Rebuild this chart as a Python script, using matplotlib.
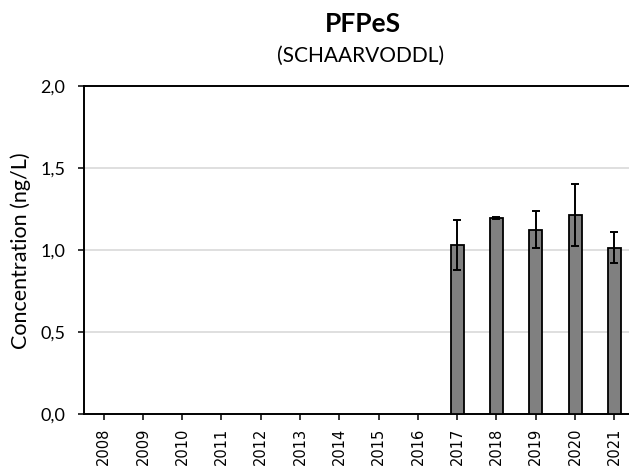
import matplotlib
matplotlib.use("Agg")
import matplotlib.pyplot as plt
import numpy as np

years = ["2008", "2009", "2010", "2011", "2012", "2013", "2014", "2015",
         "2016", "2017", "2018", "2019", "2020", "2021"]
values = [np.nan] * 9 + [1.03, 1.195, 1.125, 1.215, 1.015]
errors = [np.nan] * 9 + [0.15, 0.005, 0.115, 0.19, 0.095]
yticks = [0.0, 0.5, 1.0, 1.5, 2.0]
ytick_labels = ["0,0", "0,5", "1,0", "1,5", "2,0"]

plt.rcParams['font.family'] = ['Lato', 'DejaVu Sans']

fig = plt.figure(figsize=(6.29, 4.66), dpi=100)
ax = fig.add_axes([84/629, 52/466, 550/629, 328/466])

x = np.arange(len(years))
ax.bar(x, values, width=0.33, color="#808080", edgecolor="black", linewidth=1.3, zorder=3)
ax.errorbar(x, values, yerr=errors, fmt="none", ecolor="black", elinewidth=1.4,
            capsize=3, capthick=1.4, zorder=4)

ax.set_xlim(-0.5, 13.5)
ax.set_ylim(0, 2.0)
ax.set_yticks(yticks)
ax.set_yticklabels(ytick_labels, fontsize=13)
ax.set_xticks(x)
ax.set_xticklabels(years, rotation=90, fontsize=10.5, family=['DejaVu Sans'])
ax.yaxis.grid(True, color="#d9d9d9", linewidth=1.2, zorder=0)
ax.set_axisbelow(True)
for s in ["left", "bottom", "top"]:
    ax.spines[s].set_linewidth(1.4)
    ax.spines[s].set_color("black")
ax.spines["right"].set_visible(False)
ax.tick_params(axis="y", direction="out", length=4.5, width=1.1, pad=9)
ax.tick_params(axis="x", direction="out", length=4.5, width=1.1, pad=5.5)

fig.text(21/629, 1 - 251/466, "Concentration (ng/L)", rotation=90,
         ha="center", va="center", fontsize=15.5)
fig.text(362.5/629, 1 - 32/466, "PFPeS", ha="center", va="baseline", fontsize=19, fontweight="bold")
fig.text(361/629, 1 - 62/466, "(SCHAARVODDL)", ha="center", va="baseline", fontsize=15)

fig.savefig("out.png", dpi=100)
